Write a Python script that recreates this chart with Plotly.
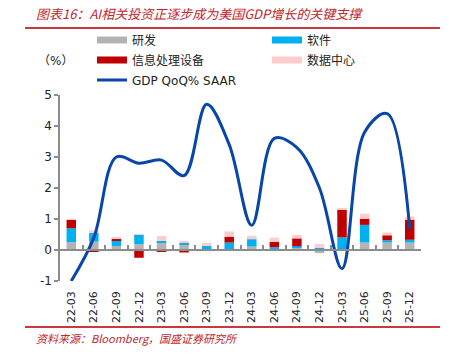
import plotly.graph_objects as go

quarters = ["22-03", "22-06", "22-09", "22-12", "23-03", "23-06", "23-09", "23-12",
            "24-03", "24-06", "24-09", "24-12", "25-03", "25-06", "25-09", "25-12"]
rnd = [0.25, 0.27, 0.13, 0.19, 0.25, 0.16, 0.00, 0.00,
       0.11, -0.03, 0.075, -0.10, -0.03, 0.24, 0.24, 0.24]
software = [0.45, 0.30, 0.19, 0.31, 0.04, 0.075, 0.14, 0.24,
            0.24, 0.09, 0.05, 0.075, 0.41, 0.57, 0.075, 0.09]
equipment = [0.27, -0.05, 0.05, -0.25, -0.06, -0.08, -0.03, 0.19,
             0.00, 0.17, 0.25, 0.00, 0.90, 0.20, 0.16, 0.65]
datacenter = [0.02, 0.06, 0.05, 0.01, 0.16, 0.06, 0.09, 0.17,
              0.11, 0.14, 0.11, 0.12, 0.04, 0.16, 0.09, 0.10]
gdp = [-1.0, 0.4, 3.0, 2.8, 2.9, 2.4, 4.7, 3.4,
       0.8, 3.6, 3.3, 2.0, -0.6, 3.8, 4.4, 0.7]
y_ticks = [-1, 0, 1, 2, 3, 4, 5]
y_tick_labels = ["-1", "0", "1", "2", "3", "4", "5"]

series = [("研发", rnd, "#B3B3B3", "legend"),
          ("软件", software, "#00B0F0", "legend"),
          ("信息处理设备", equipment, "#C00000", "legend2"),
          ("数据中心", datacenter, "#FFCCCC", "legend2")]

W, H = 451, 354
L, R, T, B = 60, 421, 95, 281


def px(xp):
    return (xp - L) / (R - L)


def py(yp):
    return (B - yp) / (B - T)


fig = go.Figure()
for name, vals, col, lg in series:
    fig.add_trace(go.Bar(x=quarters, y=vals, name=name, marker=dict(color=col, line=dict(width=0)),
                         width=0.42, showlegend=False, legendgroup=name))
fig.add_trace(go.Scatter(x=quarters, y=gdp, mode="lines", name="GDP QoQ% SAAR",
                         line=dict(color="#0846A8", width=3, shape="spline", smoothing=1.0),
                         legend="legend3"))
# legend swatches
for name, vals, col, lg in series:
    fig.add_trace(go.Scatter(x=[None], y=[None], mode="lines", name=name, legendgroup=name,
                             line=dict(color=col, width=7), legend=lg))

font_fam = "DejaVu Sans, Noto Sans CJK SC"
leg_common = dict(orientation="h", entrywidth=130, entrywidthmode="pixels", itemwidth=30,
                  xref="container", yref="container", xanchor="left", yanchor="middle",
                  bgcolor="rgba(0,0,0,0)", font=dict(family=font_fam, size=12, color="#222"),
                  tracegroupgap=0, itemclick=False, itemdoubleclick=False)

fig.update_layout(
    width=W, height=H, margin=dict(l=L, r=W - R, t=T, b=H - B, autoexpand=False),
    paper_bgcolor="white", plot_bgcolor="white", barmode="relative",
    font=dict(family=font_fam, color="#222"),
    legend=dict(x=92 / W, y=1 - 40 / H, **leg_common),
    legend2=dict(x=92 / W, y=1 - 60 / H, **leg_common),
    legend3=dict(x=92 / W, y=1 - 80 / H, **leg_common),
    xaxis=dict(type="category", range=[-0.5, 15.5], anchor="free", position=1 / 6,
               showline=True, linecolor="#8C8C8C", linewidth=1.5,
               ticks="inside", tickson="boundaries", ticklen=4, tickcolor="#8C8C8C", tickwidth=1.5,
               tickangle=-90, ticklabelstandoff=36, showgrid=False,
               tickfont=dict(family="DejaVu Sans", size=11, color="#222")),
    yaxis=dict(range=[-1, 5], tickmode="array", tickvals=y_ticks, ticktext=y_tick_labels,
               showline=True, linecolor="#8C8C8C", linewidth=1.5,
               ticks="outside", ticklen=4, tickcolor="#8C8C8C", tickwidth=1.5,
               showgrid=False, zeroline=False,
               tickfont=dict(family="DejaVu Sans", size=12, color="#222")),
)

red = "#C0262D"
fig.add_shape(type="line", xref="paper", yref="paper", x0=px(25), x1=px(440), y0=py(28), y1=py(28),
              line=dict(color="#C8383E", width=2))
fig.add_shape(type="line", xref="paper", yref="paper", x0=px(25), x1=px(440), y0=py(327), y1=py(327),
              line=dict(color="#C8383E", width=2))
fig.add_annotation(text="图表16：AI相关投资正逐步成为美国GDP增长的关键支撑", xref="paper", yref="paper",
                   x=px(34), y=py(14), xanchor="left", yanchor="middle", showarrow=False,
                   font=dict(family="Noto Sans CJK SC", size=13, color=red, style="italic"))
fig.add_annotation(text="资料来源：Bloomberg，国盛证券研究所", xref="paper", yref="paper",
                   x=px(34), y=py(338), xanchor="left", yanchor="middle", showarrow=False,
                   font=dict(family="Noto Sans CJK SC", size=11, color=red, style="italic"))
fig.add_annotation(text="（%）", xref="paper", yref="paper",
                   x=px(36), y=py(61), xanchor="left", yanchor="middle", showarrow=False,
                   font=dict(family=font_fam, size=12, color="#222"))

fig.write_html("out.html")
